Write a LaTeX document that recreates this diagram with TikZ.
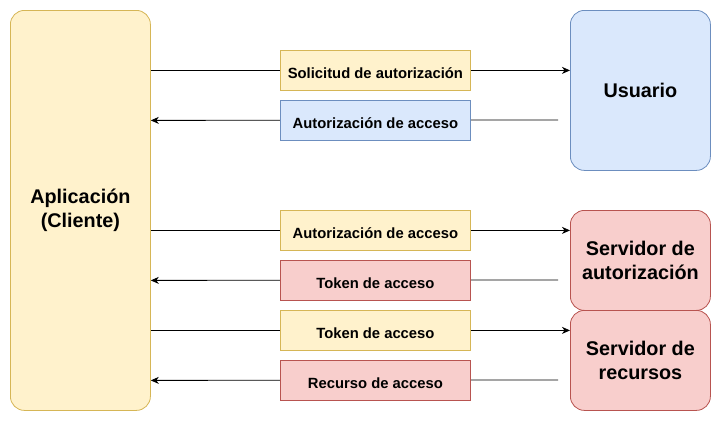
\documentclass[tikz,border=0pt]{standalone}
\usepackage{fontspec}
\setmainfont{Liberation Sans}
\usetikzlibrary{arrows.meta,backgrounds}
\definecolor{ylwfill}{HTML}{FFF2CC}
\definecolor{ylwline}{HTML}{D6B656}
\definecolor{bluefill}{HTML}{DAE8FC}
\definecolor{blueline}{HTML}{6C8EBF}
\definecolor{redfill}{HTML}{F8CECC}
\definecolor{redline}{HTML}{B85450}
\tikzset{
  actor/.style={draw, rounded corners=14pt, minimum width=140pt, align=center,
    font=\fontsize{19.8}{24}\selectfont\bfseries, line width=0.8pt, anchor=north west, inner sep=0pt},
  msg/.style={draw, minimum width=190pt, minimum height=40pt, inner sep=0pt,
    text height=17pt, text depth=0pt,
    font=\fontsize{14.8}{17}\selectfont\bfseries, line width=0.8pt, anchor=north west},
  yel/.style={fill=ylwfill, draw=ylwline},
  blu/.style={fill=bluefill, draw=blueline},
  rd/.style={fill=redfill, draw=redline},
  flow/.style={line width=0.8pt, -{Stealth[length=8pt,width=7pt,inset=2.5pt]}},
}
\begin{document}
\begin{tikzpicture}[x=1pt,y=-1pt]
\useasboundingbox (0,0) rectangle (721,421);
% participants
\node[actor, yel, minimum height=400pt] (app) at (10,10) {Aplicación\\(Cliente)};
\node[actor, blu, minimum height=160pt] (usr) at (570,10) {Usuario};
\node[actor, rd, minimum height=100pt] (auth) at (570,210) {Servidor de\\autorización};
\node[actor, rd, minimum height=100pt] (res) at (570,310) {Servidor de\\recursos};
% messages
\node[msg, yel] (m1) at (280,50) {Solicitud de autorización};
\node[msg, blu] (m2) at (280,100) {Autorización de acceso};
\node[msg, yel] (m3) at (280,210) {Autorización de acceso};
\node[msg, rd] (m4) at (280,260) {Token de acceso};
\node[msg, yel] (m5) at (280,310) {Token de acceso};
\node[msg, rd] (m6) at (280,360) {Recurso de acceso};
% free starting points of the replies
\coordinate (r2) at (558,120);
\coordinate (r4) at (558,280);
\coordinate (r6) at (558,380);
\begin{scope}[on background layer]
\draw[flow] (app.east |- m1) -- (usr.west |- m1);
\draw[flow] (r2) -- (app.east |- m2);
\draw[flow] (app.east |- m3) -- (auth.west |- m3);
\draw[flow] (r4) -- (app.east |- m4);
\draw[flow] (app.east |- m5) -- (res.west |- m5);
\draw[flow] (r6) -- (app.east |- m6);
\end{scope}
\end{tikzpicture}
\end{document}
